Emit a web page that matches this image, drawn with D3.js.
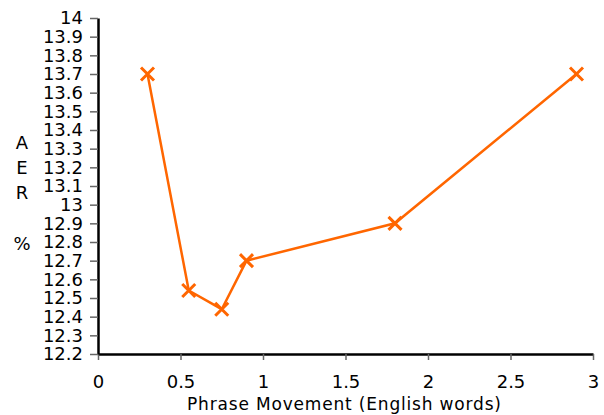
<!DOCTYPE html>
<html>
<head>
<meta charset="utf-8">
<script src="https://cdn.jsdelivr.net/npm/d3@7"></script>
<style>
  html, body { margin: 0; padding: 0; background: #fff; }
  svg { display: block; }
  text { font-family: "DejaVu Sans", sans-serif; fill: #000; }
</style>
</head>
<body>
<svg id="chart" width="604" height="415"></svg>
<script>
// Phrase movement (English words) vs. alignment error rate
const movement = [0.3, 0.55, 0.75, 0.9, 1.8, 2.9];
const aer = [13.7, 12.54, 12.44, 12.7, 12.9, 13.7];
const xTicks = [0, 0.5, 1, 1.5, 2, 2.5, 3];
const yTicks = [12.2, 12.3, 12.4, 12.5, 12.6, 12.7, 12.8, 12.9, 13, 13.1, 13.2, 13.3, 13.4, 13.5, 13.6, 13.7, 13.8, 13.9, 14];
const yLabelChars = ["A", "E", "R", "", "%"];

const svg = d3.select("#chart");
const plot = { left: 98, right: 593, top: 18, bottom: 354 };

const x = d3.scaleLinear().domain([0, 3]).range([plot.left, plot.right]);
const y = d3.scaleLinear().domain([12.2, 14]).range([plot.bottom, plot.top]);

// x axis
const gx = svg.append("g").attr("transform", `translate(0,${plot.bottom})`)
  .call(d3.axisBottom(x).tickValues(xTicks).tickFormat(d3.format("")).tickSizeInner(6).tickSizeOuter(0).tickPadding(15));
gx.select(".domain").attr("stroke", "#000").attr("stroke-width", 2.5);
gx.selectAll(".tick line").attr("stroke", "#666").attr("stroke-width", 1.5);
gx.selectAll(".tick text").attr("font-size", 18).attr("font-family", "DejaVu Sans");

// y axis
const gy = svg.append("g").attr("transform", `translate(${plot.left},0)`)
  .call(d3.axisLeft(y).tickValues(yTicks).tickFormat(d3.format("")).tickSizeInner(8).tickSizeOuter(0).tickPadding(7));
gy.select(".domain").attr("stroke", "#000").attr("stroke-width", 2.5);
gy.selectAll(".tick line").attr("stroke", "#666").attr("stroke-width", 1.5);
gy.selectAll(".tick text").attr("font-size", 18).attr("font-family", "DejaVu Sans");

// axis titles
svg.append("text")
  .attr("x", 187).attr("y", 409.5)
  .attr("font-size", 17)
  .attr("textLength", 314).attr("lengthAdjust", "spacing")
  .text("Phrase Movement (English words)");

svg.append("g").selectAll("text").data(yLabelChars).join("text")
  .attr("x", 22).attr("y", (d, i) => 149 + i * 25.2)
  .attr("text-anchor", "middle").attr("font-size", 18)
  .text(d => d);

// series line
const pts = movement.map((m, i) => [m, aer[i]]);
const color = "#ff6600";
svg.append("path")
  .datum(pts)
  .attr("fill", "none").attr("stroke", color).attr("stroke-width", 2.5)
  .attr("d", d3.line().x(d => x(d[0])).y(d => y(d[1])));

// cross markers
const s = 6.5;
svg.append("g").selectAll("path").data(pts).join("path")
  .attr("transform", d => `translate(${x(d[0])},${y(d[1])})`)
  .attr("d", `M${-s},${-s}L${s},${s}M${-s},${s}L${s},${-s}`)
  .attr("stroke", color).attr("stroke-width", 3).attr("fill", "none");
</script>
</body>
</html>
